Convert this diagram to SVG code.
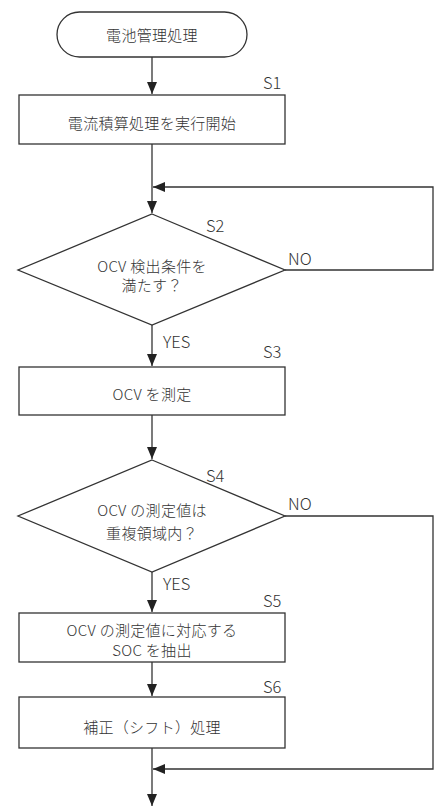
<svg xmlns="http://www.w3.org/2000/svg" width="440" height="807" viewBox="0 0 440 807">
<style>
.shape{fill:#fff;stroke:#333;stroke-width:1.3}
.line{fill:none;stroke:#333;stroke-width:1.3}
.jp{font-family:"Noto Sans CJK JP","Noto Sans",sans-serif;font-size:15px;font-weight:300;fill:#333;text-anchor:middle;letter-spacing:0.3px}
.lbl{font-family:"Noto Sans CJK JP","Noto Sans",sans-serif;font-size:16.5px;font-weight:300;fill:#333}
</style>
<defs>
<marker id="arr" markerUnits="userSpaceOnUse" markerWidth="12" markerHeight="10" refX="12" refY="5" orient="auto">
<path d="M0,0 L12,5 L0,10 z" fill="#222"/>
</marker>
</defs>
<rect width="440" height="807" fill="#fff"/>
<g id="connectors">
<path class="line" d="M152,57 V94" marker-end="url(#arr)"/>
<path class="line" d="M152,144 V213" marker-end="url(#arr)"/>
<path class="line" d="M285,270 H433 V187 H153" marker-end="url(#arr)"/>
<path class="line" d="M152,325 V366" marker-end="url(#arr)"/>
<path class="line" d="M152,415 V459" marker-end="url(#arr)"/>
<path class="line" d="M152,572 V612" marker-end="url(#arr)"/>
<path class="line" d="M152,662 V696" marker-end="url(#arr)"/>
<path class="line" d="M152,748 V806" marker-end="url(#arr)"/>
<path class="line" d="M285,516 H433 V769 H153" marker-end="url(#arr)"/>
<text class="lbl" x="288" y="265">NO</text>
<text class="lbl" x="163" y="348">YES</text>
<text class="lbl" x="288" y="510">NO</text>
<text class="lbl" x="163" y="590">YES</text>
</g>
<g id="start">
<rect class="shape" x="57" y="12" width="190" height="45" rx="22.5"/>
<text class="jp" x="152" y="40.5">電池管理処理</text>
</g>
<g id="S1">
<rect class="shape" x="19" y="95" width="266" height="49"/>
<text class="jp" x="152" y="128.5">電流積算処理を実行開始</text>
<text class="lbl" x="263" y="89">S1</text>
</g>
<g id="S2">
<polygon class="shape" points="152,214 285,270 152,325 18,270"/>
<text class="jp" x="152" y="271.5">OCV 検出条件を</text>
<text class="jp" x="152" y="290.5">満たす？</text>
<text class="lbl" x="206" y="232">S2</text>
</g>
<g id="S3">
<rect class="shape" x="19" y="367" width="266" height="48"/>
<text class="jp" x="152" y="399.5">OCV を測定</text>
<text class="lbl" x="263" y="358">S3</text>
</g>
<g id="S4">
<polygon class="shape" points="152,460 285,516 152,572 18,516"/>
<text class="jp" x="152" y="515.5">OCV の測定値は</text>
<text class="jp" x="152" y="538.5">重複領域内？</text>
<text class="lbl" x="206" y="482">S4</text>
</g>
<g id="S5">
<rect class="shape" x="19" y="613" width="266" height="49"/>
<text class="jp" x="152" y="635.5">OCV の測定値に対応する</text>
<text class="jp" x="152" y="655.5">SOC を抽出</text>
<text class="lbl" x="263" y="607">S5</text>
</g>
<g id="S6">
<rect class="shape" x="19" y="697" width="266" height="51"/>
<text class="jp" x="152" y="732.5">補正（シフト）処理</text>
<text class="lbl" x="263" y="693">S6</text>
</g>
</svg>
